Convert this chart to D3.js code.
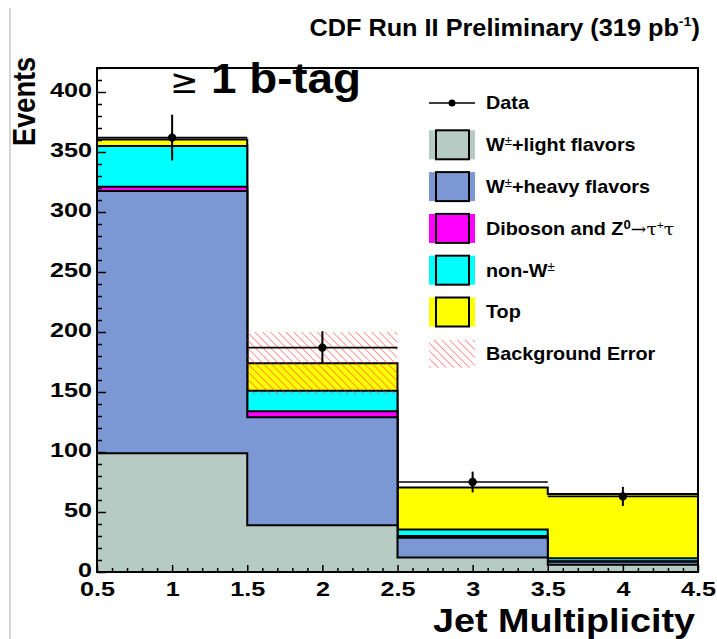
<!DOCTYPE html>
<html>
<head>
<meta charset="utf-8">
<script src="https://cdn.jsdelivr.net/npm/d3@7"></script>
<style>
  body { margin: 0; background: #fff; }
  svg { display: block; font-family: "Liberation Sans", Arial, Helvetica, sans-serif; }
</style>
</head>
<body>
<div id="chart"></div>
<script>
// Jet multiplicity, >= 1 b-tag (stacked backgrounds + data)
const binEdges = [0.5, 1.5, 2.5, 3.5, 4.5];
const binCenters = [1, 2, 3, 4];
const wLight = [99, 39, 12, 6];
const wHeavy = [218.5, 90, 16.5, 2.5];
const diboson = [3.5, 5, 1.5, 0.5];
const nonW = [34, 17, 5.5, 2.5];
const topPair = [5.5, 23, 35, 53.5];
const bkgError = [0, 26, 0, 0];
const dataEvents = [362, 187, 75, 63];
const yTicks = [0, 50, 100, 150, 200, 250, 300, 350, 400];
const xTicks = [0.5, 1, 1.5, 2, 2.5, 3, 3.5, 4, 4.5];

const W = 717, H = 639;
const margin = { top: 68, right: 19, bottom: 67, left: 97 };

const svg = d3.select('#chart').append('svg')
  .attr('width', W)
  .attr('height', H);

const x = d3.scaleLinear().domain([0.5, 4.5]).range([margin.left, W - margin.right]);
const y = d3.scaleLinear().domain([0, 420]).range([H - margin.bottom, margin.top]);

const layers = [
  { key: 'light', color: '#b5cbc4', values: wLight },
  { key: 'heavy', color: '#7b98d4', values: wHeavy },
  { key: 'diboson', color: '#ff00ff', values: diboson },
  { key: 'nonW', color: '#00ffff', values: nonW },
  { key: 'top', color: '#ffff00', values: topPair }
];

const rows = binCenters.map((c, i) => {
  const r = { bin: c };
  layers.forEach(l => { r[l.key] = l.values[i]; });
  return r;
});
const series = d3.stack().keys(layers.map(l => l.key))(rows);

// hatch pattern for background error
const defs = svg.append('defs');
defs.append('pattern')
  .attr('id', 'hatch')
  .attr('patternUnits', 'userSpaceOnUse')
  .attr('width', 5.5)
  .attr('height', 5.5)
  .attr('patternTransform', 'rotate(-45)')
  .append('line')
  .attr('x1', 0).attr('y1', 0)
  .attr('x2', 0).attr('y2', 5.5)
  .style('stroke', '#ff3030')
  .style('stroke-width', 1);

// thin grey line in left margin
svg.append('line')
  .attr('x1', 10).attr('x2', 10)
  .attr('y1', 8).attr('y2', H)
  .style('stroke', '#aaa')
  .style('stroke-width', 1);

const area = d3.area()
  .x(d => x(d[0]))
  .y0(y(0))
  .y1(d => y(d[1]));

function stepPoints(s) {
  const pts = [];
  s.forEach((d, i) => {
    pts.push([binEdges[i], d[1]]);
    pts.push([binEdges[i + 1], d[1]]);
  });
  return pts;
}

// draw largest cumulative first, then the smaller ones on top
const plot = svg.append('g');
series.slice().reverse().forEach(s => {
  const layer = layers.find(l => l.key === s.key);
  plot.append('path')
    .attr('d', area(stepPoints(s)))
    .style('fill', layer.color)
    .style('stroke', '#000')
    .style('stroke-width', 2)
    .style('stroke-linejoin', 'miter');
});

// background error band
const totals = series[series.length - 1].map(d => d[1]);
plot.selectAll('rect.err')
  .data(binCenters.map((c, i) => ({ i: i, tot: totals[i], err: bkgError[i] })).filter(d => d.err > 0))
  .enter().append('rect')
  .attr('class', 'err')
  .attr('x', d => x(binEdges[d.i]))
  .attr('width', d => x(binEdges[d.i + 1]) - x(binEdges[d.i]))
  .attr('y', d => y(d.tot + d.err))
  .attr('height', d => y(d.tot - d.err) - y(d.tot + d.err))
  .style('fill', 'url(#hatch)');

// data points
const pts = binCenters.map((c, i) => ({ c: c, v: dataEvents[i], lo: binEdges[i], hi: binEdges[i + 1] }));
const dataG = svg.append('g');
dataG.selectAll('line.h').data(pts).enter().append('line')
  .attr('x1', d => x(d.lo)).attr('x2', d => x(d.hi))
  .attr('y1', d => y(d.v)).attr('y2', d => y(d.v))
  .style('stroke', '#000').style('stroke-width', 1.6);
dataG.selectAll('line.v').data(pts).enter().append('line')
  .attr('x1', d => x(d.c)).attr('x2', d => x(d.c))
  .attr('y1', d => y(d.v - Math.sqrt(d.v))).attr('y2', d => y(d.v + Math.sqrt(d.v)))
  .style('stroke', '#000').style('stroke-width', 2);
dataG.selectAll('circle').data(pts).enter().append('circle')
  .attr('cx', d => x(d.c)).attr('cy', d => y(d.v))
  .attr('r', 4.2)
  .style('fill', '#000');

// frame
svg.append('rect')
  .attr('x', x(0.5)).attr('y', y(420))
  .attr('width', x(4.5) - x(0.5))
  .attr('height', y(0) - y(420))
  .style('fill', 'none')
  .style('stroke', '#000')
  .style('stroke-width', 2);

function labelLength(t, w) {
  return t.split('').reduce((s, ch) => s + (ch === '.' ? w * 0.5 : w), 0);
}

// axes, ticks inside the frame
const yMinor = d3.range(0, 421, 10).filter(v => v % 50 !== 0);
const xMinor = d3.range(5, 46, 1).map(v => v / 10).filter(v => Math.round(v * 10) % 5 !== 0);

const yAxis = svg.append('g').attr('transform', `translate(${x(0.5)},0)`)
  .call(d3.axisLeft(y).tickValues(yTicks).tickSize(-9).tickPadding(5).tickFormat(d3.format('d')));
svg.append('g').attr('transform', `translate(${x(0.5)},0)`)
  .call(d3.axisLeft(y).tickValues(yMinor).tickSize(-5).tickFormat(''));

const xAxis = svg.append('g').attr('transform', `translate(0,${y(0)})`)
  .call(d3.axisBottom(x).tickValues(xTicks).tickSize(-7).tickPadding(10).tickFormat(d3.format('')));
svg.append('g').attr('transform', `translate(0,${y(0)})`)
  .call(d3.axisBottom(x).tickValues(xMinor).tickSize(-4).tickFormat(''));

svg.selectAll('.domain').remove();
svg.selectAll('.tick line').style('stroke', '#000').style('stroke-width', 1.5);
svg.selectAll('.tick text')
  .style('font-size', '20px')
  .style('font-weight', 'bold')
  .style('fill', '#000')
  .attr('lengthAdjust', 'spacingAndGlyphs')
  .attr('textLength', function() { return labelLength(this.textContent, 14); });
yAxis.selectAll('.tick text').attr('dy', '0.22em');

// titles
const title = svg.append('text')
  .attr('transform', 'translate(700,36) scale(1.1,1)')
  .attr('text-anchor', 'end')
  .style('font-size', '23px')
  .style('font-weight', 'bold');
title.append('tspan').text('CDF Run II Preliminary (319 pb');
title.append('tspan').attr('dy', -10).style('font-size', '13px').text('-1');
title.append('tspan').attr('dy', 10).text(')');

svg.append('text')
  .attr('x', 170).attr('y', 93)
  .style('font-family', '"DejaVu Sans", sans-serif')
  .style('font-size', '34px')
  .text('≥');
svg.append('text')
  .attr('transform', 'translate(211,93) scale(1.09,1)')
  .style('font-size', '42px')
  .style('font-weight', 'bold')
  .text('1 b-tag');

svg.append('text')
  .attr('transform', 'translate(35,146) rotate(-90) scale(0.85,1)')
  .style('font-size', '32px')
  .style('font-weight', 'bold')
  .text('Events');

svg.append('text')
  .attr('transform', 'translate(695,632) scale(1.11,1)')
  .attr('text-anchor', 'end')
  .style('font-size', '34px')
  .style('font-weight', 'bold')
  .text('Jet Multiplicity');

// legend
const legendY = i => 103 + i * 41.8;
const legend = svg.append('g');

legend.append('line')
  .attr('x1', 429).attr('x2', 475)
  .attr('y1', legendY(0)).attr('y2', legendY(0))
  .style('stroke', '#000').style('stroke-width', 1.5);
legend.append('circle')
  .attr('cx', 452).attr('cy', legendY(0)).attr('r', 3.5)
  .style('fill', '#000');

layers.forEach((l, i) => {
  const cy = legendY(i + 1);
  legend.append('rect')
    .attr('x', 429).attr('y', cy - 14.5).attr('width', 46).attr('height', 29)
    .style('fill', l.color);
  legend.append('rect')
    .attr('x', 436).attr('y', cy - 14.5).attr('width', 33).attr('height', 29)
    .style('fill', 'none')
    .style('stroke', '#000')
    .style('stroke-width', 2);
});
legend.append('rect')
  .attr('x', 429).attr('y', legendY(6) - 14).attr('width', 46).attr('height', 28)
  .style('fill', 'url(#hatch)');

function legendText(i) {
  return legend.append('text')
    .attr('transform', `translate(486,${legendY(i)}) scale(1.1,1)`)
    .attr('dy', '0.36em')
    .style('font-size', '18px')
    .style('font-weight', 'bold');
}

legendText(0).text('Data');

let t = legendText(1);
t.append('tspan').text('W');
t.append('tspan').attr('dy', -6).style('font-size', '12px').style('font-weight', 'normal').text('±');
t.append('tspan').attr('dy', 6).text('+light flavors');

t = legendText(2);
t.append('tspan').text('W');
t.append('tspan').attr('dy', -6).style('font-size', '12px').style('font-weight', 'normal').text('±');
t.append('tspan').attr('dy', 6).text('+heavy flavors');

t = legendText(3);
t.append('tspan').text('Diboson and Z');
t.append('tspan').attr('dy', -6).style('font-size', '12px').text('0');
t.append('tspan').attr('dy', 6).style('font-weight', 'normal').style('font-family', '"DejaVu Serif", serif').style('font-size', '17px').text('→τ');
t.append('tspan').attr('dy', -6).style('font-weight', 'normal').style('font-size', '11px').text('+');
t.append('tspan').attr('dy', 6).style('font-weight', 'normal').style('font-family', '"DejaVu Serif", serif').style('font-size', '17px').text('τ');

t = legendText(4);
t.append('tspan').text('non-W');
t.append('tspan').attr('dy', -6).style('font-size', '12px').style('font-weight', 'normal').text('±');

legendText(5).text('Top');
legendText(6).text('Background Error');
</script>
</body>
</html>
